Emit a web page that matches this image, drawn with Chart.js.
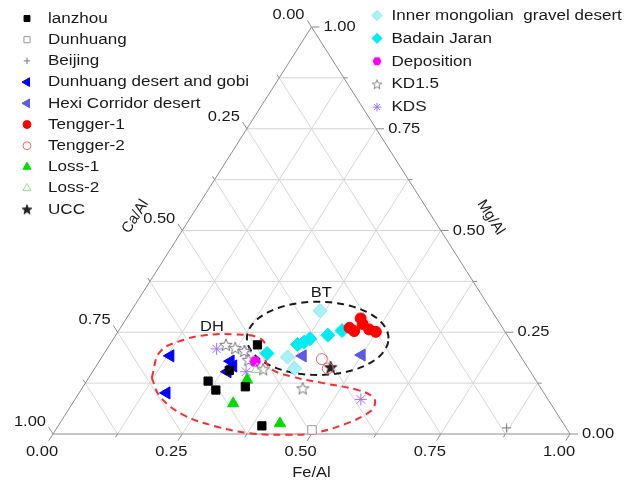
<!DOCTYPE html>
<html>
<head>
<meta charset="utf-8">
<script src="https://cdn.jsdelivr.net/npm/chart.js@4.4.1/dist/chart.umd.min.js"></script>
<style>
  html, body { margin: 0; padding: 0; background: #fff; }
  canvas { display: block; }
</style>
</head>
<body>
<canvas id="c" width="638" height="489"></canvas>
<script>
// Ternary composition of dust samples.
// Each sample: Fe/Al and Mg/Al fractions; Ca/Al = 1 - Fe - Mg.
const lanzhouFe = [0.286, 0.263, 0.235, 0.261, 0.314, 0.394];
const lanzhouMg = [0.219, 0.156, 0.130, 0.108, 0.116, 0.020];

const dunhuangFe = [0.496];
const dunhuangMg = [0.010];

const beijingFe = [0.870];
const beijingMg = [0.015];

const dhDesertFe = [0.131, 0.169, 0.254, 0.261, 0.265];
const dhDesertMg = [0.192, 0.101, 0.179, 0.153, 0.167];

const hexiFe = [0.387, 0.500];
const hexiMg = [0.192, 0.194];

const tengger1Fe = [0.443, 0.456, 0.453, 0.464, 0.483, 0.499];
const tengger1Mg = [0.261, 0.253, 0.284, 0.270, 0.257, 0.251];

const tengger2Fe = [0.428, 0.451];
const tengger2Mg = [0.184, 0.161];

const loss1Fe = [0.309, 0.311, 0.426];
const loss1Mg = [0.133, 0.075, 0.026];

const loss2Fe = [0.315];
const loss2Mg = [0.159];

const uccFe = [0.455];
const uccMg = [0.164];

const innerMongoliaFe = [0.365, 0.359, 0.387];
const innerMongoliaMg = [0.303, 0.189, 0.161];

const badainFe = [0.315, 0.363, 0.373, 0.380, 0.410, 0.432];
const badainMg = [0.198, 0.220, 0.226, 0.234, 0.243, 0.254];

const depositionFe = [0.302];
const depositionMg = [0.178];

const kd15Fe = [0.225, 0.247, 0.268, 0.287, 0.327, 0.427];
const kd15Mg = [0.219, 0.211, 0.204, 0.182, 0.159, 0.112];

const kdsFe = [0.212, 0.272, 0.297, 0.553];
const kdsMg = [0.209, 0.202, 0.153, 0.085];

// Axis ticks
const tickValues = [0, 0.25, 0.5, 0.75, 1];
const tickLabels = ['0.00', '0.25', '0.50', '0.75', '1.00'];
const gridDivisions = 8;

// Hand-drawn "DH" loop, in plot units (x across the base, y = height fraction)
const dhLoopX = [0.191, 0.207, 0.252, 0.297, 0.349, 0.397, 0.413, 0.411, 0.424, 0.462, 0.523, 0.587, 0.617, 0.623, 0.613, 0.568, 0.503, 0.452, 0.381, 0.317, 0.252, 0.207, 0.191];
const dhLoopY = [0.138, 0.202, 0.231, 0.243, 0.245, 0.237, 0.214, 0.182, 0.158, 0.141, 0.125, 0.109, 0.093, 0.076, 0.055, 0.026, 0.002, -0.002, 0.002, 0.018, 0.047, 0.092, 0.138];

// "BT" ellipse, in plot units
const btCenter = { x: 0.512, y: 0.235 };
const btRadius = { x: 0.137, y: 0.090 };

// Group labels, in plot units
const groupLabels = [
  { text: 'DH', x: 0.3075, y: 0.264 },
  { text: 'BT', x: 0.519, y: 0.346 }
];

// Ternary (Fe, Mg) -> plot coordinates
function toXY(fe, mg) {
  return fe.map((f, i) => ({ x: f + mg[i] / 2, y: mg[i] }));
}

// Custom marker images
function makeCanvas(size, draw) {
  const c = document.createElement('canvas');
  c.width = size; c.height = size;
  draw(c.getContext('2d'), size / 2);
  return c;
}
function starPath(g, cx, cy, R, r) {
  g.beginPath();
  for (let i = 0; i < 10; i++) {
    const a = -Math.PI / 2 + i * Math.PI / 5;
    const rad = i % 2 ? r : R;
    g.lineTo(cx + rad * Math.cos(a), cy + rad * Math.sin(a));
  }
  g.closePath();
}
function makeStar(size, R, fill, stroke) {
  return makeCanvas(size, (g, c) => {
    starPath(g, c, c + 0.5, R, R * 0.42);
    g.fillStyle = fill; g.fill();
    g.lineWidth = 1; g.strokeStyle = stroke; g.stroke();
  });
}
function makeHex(size, R, color) {
  return makeCanvas(size, (g, c) => {
    g.beginPath();
    for (let i = 0; i < 6; i++) {
      const a = i * Math.PI / 3;
      g.lineTo(c + R * Math.cos(a), c + R * Math.sin(a));
    }
    g.closePath();
    g.fillStyle = color; g.fill();
  });
}
const uccMark = makeStar(16, 6.5, '#222', '#222');
const uccLegend = makeStar(14, 5, '#222', '#222');
const kdMark = makeStar(16, 6.5, '#fff', '#777');
const kdLegend = makeStar(14, 5, '#fff', '#888');
const hexMark = makeHex(14, 6, '#ff00ff');
const hexLegend = makeHex(12, 4.5, '#ff00ff');

const series = [
  { label: 'lanzhou', fe: lanzhouFe, mg: lanzhouMg, style: 'rect', r: 5.8, fill: '#000', stroke: '#000', col: 0 },
  { label: 'Dunhuang', fe: dunhuangFe, mg: dunhuangMg, style: 'rect', r: 6, fill: '#fff', stroke: '#999', col: 0 },
  { label: 'Beijing', fe: beijingFe, mg: beijingMg, style: 'cross', r: 4.5, fill: '#777', stroke: '#777', col: 0 },
  { label: 'Dunhuang desert and gobi', fe: dhDesertFe, mg: dhDesertMg, style: 'triangle', rot: -90, r: 7, fill: '#0000ff', stroke: '#0000ff', col: 0 },
  { label: 'Hexi Corridor desert', fe: hexiFe, mg: hexiMg, style: 'triangle', rot: -90, r: 7, fill: '#5b5be6', stroke: '#5b5be6', col: 0 },
  { label: 'Tengger-1', fe: tengger1Fe, mg: tengger1Mg, style: 'circle', r: 5.5, fill: '#ff0000', stroke: '#ff0000', col: 0 },
  { label: 'Tengger-2', fe: tengger2Fe, mg: tengger2Mg, style: 'circle', r: 5.5, fill: 'rgba(255,255,255,0)', stroke: '#f06464', col: 0 },
  { label: 'Loss-1', fe: loss1Fe, mg: loss1Mg, style: 'triangle', r: 6.5, fill: '#00dd00', stroke: '#00dd00', col: 0 },
  { label: 'Loss-2', fe: loss2Fe, mg: loss2Mg, style: 'triangle', r: 6.5, fill: 'rgba(255,255,255,0)', stroke: '#8ee08e', col: 0 },
  { label: 'UCC', fe: uccFe, mg: uccMg, style: uccMark, legendStyle: uccLegend, r: 6, fill: '#222', stroke: '#222', col: 0 },
  { label: 'Inner mongolian  gravel desert', fe: innerMongoliaFe, mg: innerMongoliaMg, style: 'rectRot', r: 7, fill: '#a6f2f6', stroke: '#8fe6ee', col: 1 },
  { label: 'Badain Jaran', fe: badainFe, mg: badainMg, style: 'rectRot', r: 7, fill: '#00ecf2', stroke: '#00ecf2', col: 1 },
  { label: 'Deposition', fe: depositionFe, mg: depositionMg, style: hexMark, legendStyle: hexLegend, r: 6, fill: '#ff00ff', stroke: '#ff00ff', col: 1 },
  { label: 'KD1.5', fe: kd15Fe, mg: kd15Mg, style: kdMark, legendStyle: kdLegend, r: 6, fill: '#fff', stroke: '#777', col: 1 },
  { label: 'KDS', fe: kdsFe, mg: kdsMg, style: 'star', r: 6, fill: '#a070ff', stroke: '#a070ff', col: 1 }
];

const FONT = "'Liberation Sans', Arial, sans-serif";
const STRETCH = 1.1;

function drawText(ctx, str, x, y, align, size, color) {
  ctx.save();
  ctx.translate(x, y);
  ctx.scale(STRETCH, 1);
  ctx.font = size + 'px ' + FONT;
  ctx.fillStyle = color || '#1a1a1a';
  ctx.textAlign = align;
  ctx.textBaseline = 'middle';
  ctx.fillText(str, 0, 0);
  ctx.restore();
}

// Triangle frame, grid, ticks and axis titles
const ternaryFrame = {
  id: 'ternaryFrame',
  beforeDatasetsDraw(chart) {
    const ctx = chart.ctx;
    const X = chart.scales.x, Y = chart.scales.y;
    const P = (x, y) => ({ x: X.getPixelForValue(x), y: Y.getPixelForValue(y) });
    const seg = (a, b) => { ctx.beginPath(); ctx.moveTo(a.x, a.y); ctx.lineTo(b.x, b.y); ctx.stroke(); };
    const unit = (a, b) => { const dx = b.x - a.x, dy = b.y - a.y, l = Math.hypot(dx, dy); return { x: dx / l, y: dy / l }; };

    const BL = P(0, 0), BR = P(1, 0), T = P(0.5, 1);
    ctx.save();
    // grid
    ctx.strokeStyle = '#d6d6d6';
    ctx.lineWidth = 1;
    for (let k = 1; k < gridDivisions; k++) {
      const v = k / gridDivisions;
      seg(P(v / 2, v), P(1 - v / 2, v));       // Mg constant
      seg(P(v, 0), P(v + (1 - v) / 2, 1 - v)); // Fe constant
      seg(P(v, 0), P(v / 2, v));               // Ca constant
    }
    // frame
    ctx.strokeStyle = '#8e8e8e';
    ctx.lineWidth = 1;
    ctx.beginPath();
    ctx.moveTo(BL.x, BL.y); ctx.lineTo(BR.x, BR.y); ctx.lineTo(T.x, T.y); ctx.closePath();
    ctx.stroke();

    // ticks
    const dBottom = unit(T, BL);
    const dLeft = unit(BR, T);
    const dRight = { x: 1, y: 0 };
    for (let k = 0; k <= gridDivisions; k++) {
      const v = k / gridDivisions;
      const len = k % 2 === 0 ? 8 : 4;
      const pb = P(v, 0);
      seg(pb, { x: pb.x + dBottom.x * len, y: pb.y + dBottom.y * len });
      const pl = P((1 - v) / 2, 1 - v);
      seg(pl, { x: pl.x + dLeft.x * len, y: pl.y + dLeft.y * len });
      const pr = P(1 - v / 2, v);
      seg(pr, { x: pr.x + dRight.x * len, y: pr.y + dRight.y * len });
    }
    ctx.restore();

    // tick labels
    tickValues.forEach((v, i) => {
      const lab = tickLabels[i];
      const pb = P(v, 0);
      drawText(ctx, lab, pb.x - 11, pb.y + 18, 'center', 15);
      const pl = P((1 - v) / 2, 1 - v);
      drawText(ctx, lab, pl.x - 7, pl.y - 12, 'right', 15);
      const pr = P(1 - v / 2, v);
      drawText(ctx, lab, pr.x + 12, pr.y, 'left', 15);
    });

    // axis titles
    const mb = P(0.5, 0);
    drawText(ctx, 'Fe/Al', mb.x, mb.y + 39, 'center', 15);
    const ml = P(0.25, 0.5);
    ctx.save();
    ctx.translate(ml.x - 47, ml.y - 14);
    ctx.rotate(-57.5 * Math.PI / 180);
    ctx.font = '15px ' + FONT; ctx.fillStyle = '#1a1a1a';
    ctx.textAlign = 'center'; ctx.textBaseline = 'middle';
    ctx.fillText('Ca/Al', 0, 0);
    ctx.restore();
    const mr = P(0.75, 0.5);
    ctx.save();
    ctx.translate(mr.x + 50, mr.y - 13);
    ctx.rotate(57.5 * Math.PI / 180);
    ctx.font = '15px ' + FONT; ctx.fillStyle = '#1a1a1a';
    ctx.textAlign = 'center'; ctx.textBaseline = 'middle';
    ctx.fillText('Mg/Al', 0, 0);
    ctx.restore();

    // group labels
    groupLabels.forEach(g => {
      const p = P(g.x, g.y);
      drawText(ctx, g.text, p.x, p.y, 'center', 15);
    });
  }
};

// Two-column legend
const ternaryLegend = {
  id: 'ternaryLegend',
  afterDraw(chart) {
    const ctx = chart.ctx;
    const cols = [
      { mx: 27, tx: 48, y0: 18.5, dy: 21.2 },
      { mx: 377, tx: 391.5, y0: 15.5, dy: 22.9 }
    ];
    const rows = [0, 0];
    series.forEach(s => {
      const c = cols[s.col];
      const y = c.y0 + rows[s.col] * c.dy;
      rows[s.col]++;
      ctx.save();
      if (typeof s.style === 'string') {
        ctx.fillStyle = s.fill;
        ctx.strokeStyle = s.stroke;
        ctx.lineWidth = 1;
        Chart.helpers.drawPoint(ctx, { pointStyle: s.style, radius: s.r * 0.72, rotation: s.rot || 0, borderWidth: 1 }, c.mx, y);
      } else {
        const img = s.legendStyle;
        ctx.drawImage(img, c.mx - img.width / 2, y - img.height / 2);
      }
      ctx.restore();
      drawText(ctx, s.label, c.tx, y, 'left', 15.5);
    });
  }
};

// Outline of the BT group
const btLoop = [];
for (let i = 0; i <= 72; i++) {
  const t = i / 72 * 2 * Math.PI;
  btLoop.push({ x: btCenter.x + btRadius.x * Math.cos(t), y: btCenter.y + btRadius.y * Math.sin(t) });
}

const datasets = series.map(s => ({
  label: s.label,
  data: toXY(s.fe, s.mg),
  pointStyle: s.style,
  pointRadius: s.r,
  pointRotation: s.rot || 0,
  pointBackgroundColor: s.fill,
  pointBorderColor: s.stroke,
  pointBorderWidth: 1,
  showLine: false,
  clip: false,
  order: 0
}));

datasets.push({
  label: 'DH',
  data: dhLoopX.map((x, i) => ({ x: x, y: dhLoopY[i] })),
  showLine: true,
  borderColor: '#ff2a2a',
  borderWidth: 2,
  borderDash: [7, 5],
  tension: 0.4,
  pointRadius: 0,
  fill: false,
  clip: false,
  order: 20
});
datasets.push({
  label: 'BT',
  data: btLoop,
  showLine: true,
  borderColor: '#1a1a1a',
  borderWidth: 2,
  borderDash: [7, 5],
  tension: 0,
  pointRadius: 0,
  fill: false,
  clip: false,
  order: 20
});

new Chart(document.getElementById('c'), {
  type: 'scatter',
  data: { datasets },
  options: {
    responsive: false,
    devicePixelRatio: 1,
    animation: false,
    events: [],
    layout: { padding: { left: 53, right: 68, top: 27, bottom: 55 } },
    scales: {
      x: { type: 'linear', min: 0, max: 1, display: false },
      y: { type: 'linear', min: 0, max: 1, display: false }
    },
    plugins: {
      legend: { display: false },
      tooltip: { enabled: false }
    }
  },
  plugins: [ternaryFrame, ternaryLegend]
});
</script>
</body>
</html>
